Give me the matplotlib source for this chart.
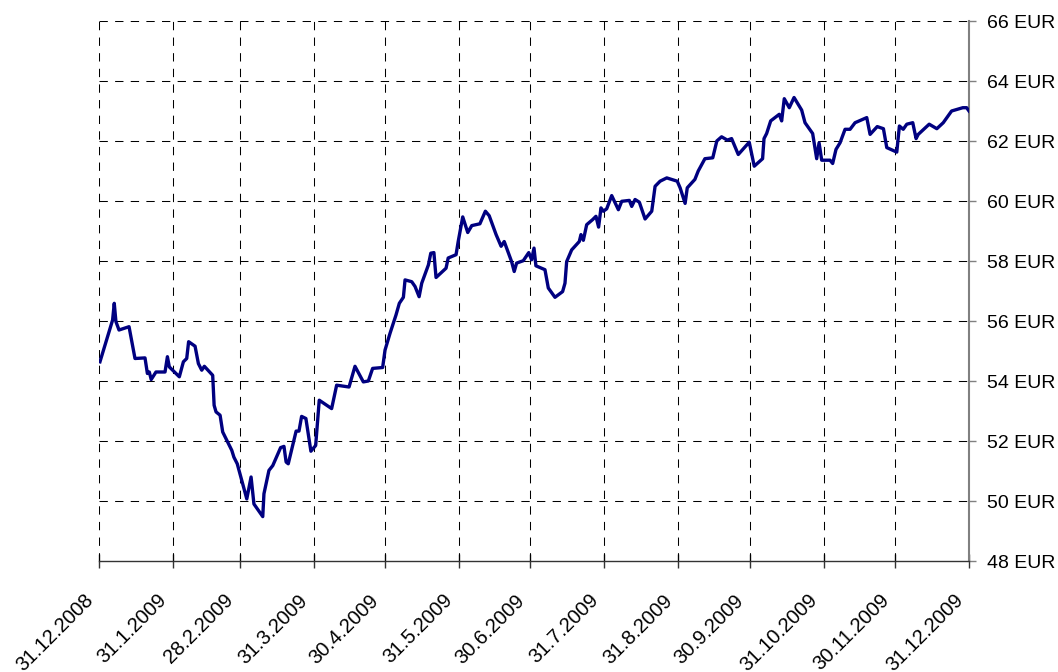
import datetime as dt

import matplotlib
matplotlib.use('Agg')
import matplotlib.pyplot as plt
import matplotlib.transforms as mtransforms

# --- Data (days after 31.12.2008, price in EUR) ---
START = dt.datetime(2008, 12, 31)
DAYS = [
    0.4, 5.7, 6.4, 7.1, 8.4, 12.6, 15.1, 19.3, 20.3, 21.1, 21.9, 23.9, 27.7,
    28.7, 29.5, 33.7, 35.4, 36.8, 37.6, 40.3, 41.7, 43.1, 44.2, 47.7, 48.3,
    49.1, 50.8, 51.9, 55.7, 56.6, 58.0, 62.0, 63.8, 65.0, 68.7, 69.2, 71.3,
    72.9, 76.2, 77.6, 78.5, 79.4, 82.7, 83.9, 85.0, 86.8, 88.9, 90.9, 92.4,
    97.6, 99.7, 104.9, 107.4, 110.9, 113.0, 114.8, 119.0, 120.0, 122.1, 124.6,
    126.0, 127.7, 128.4, 131.2, 132.6, 134.3, 135.4, 138.2, 139.2, 140.5,
    141.4, 145.6, 146.5, 149.8, 150.7, 152.6, 154.7, 156.4, 159.8, 162.1,
    163.7, 166.6, 168.7, 170.0, 173.1, 174.2, 175.2, 178.0, 180.3, 181.5,
    182.5, 183.3, 187.1, 188.5, 191.3, 194.5, 195.5, 196.2, 198.3, 201.5,
    202.2, 203.2, 204.6, 207.1, 208.5, 209.6, 210.6, 211.6, 213.0, 215.1,
    217.9, 219.3, 222.5, 223.5, 224.9, 226.7, 229.1, 231.9, 233.3, 235.4,
    238.2, 242.6, 243.8, 245.9, 246.8, 250.0, 251.4, 254.2, 257.5, 259.2,
    261.2, 263.6, 265.4, 268.2, 272.8, 274.9, 278.4, 279.0, 280.1, 281.8,
    285.4, 286.4, 287.5, 289.6, 291.6, 294.8, 296.2, 299.4, 301.1, 302.1,
    303.2, 306.7, 307.8, 309.2, 310.9, 313.0, 315.1, 317.2, 322.1, 323.5,
    326.5, 329.1, 330.5, 334.7, 335.8, 337.4, 338.9, 341.4, 342.8, 343.7,
    348.3, 351.5, 354.2, 357.7, 362.4, 364.0, 365.0,
]
PRICES = [
    54.64, 56.03, 56.59, 55.98, 55.70, 55.81, 54.75, 54.77, 54.25, 54.30,
    54.05, 54.30, 54.30, 54.81, 54.47, 54.14, 54.64, 54.75, 55.31, 55.16,
    54.58, 54.36, 54.49, 54.19, 53.19, 52.97, 52.86, 52.30, 51.69, 51.46,
    51.24, 50.07, 50.80, 49.90, 49.48, 50.24, 51.02, 51.18, 51.78, 51.82,
    51.30, 51.24, 52.33, 52.33, 52.82, 52.75, 51.66, 51.85, 53.36, 53.08,
    53.86, 53.80, 54.49, 53.97, 54.00, 54.42, 54.45, 55.03, 55.59, 56.20,
    56.59, 56.79, 57.37, 57.31, 57.15, 56.81, 57.26, 57.87, 58.26, 58.28,
    57.45, 57.76, 58.10, 58.21, 58.65, 59.47, 58.95, 59.18, 59.24, 59.66,
    59.51, 58.88, 58.49, 58.65, 57.98, 57.65, 57.93, 58.01, 58.28, 58.04,
    58.43, 57.84, 57.71, 57.10, 56.79, 56.98, 57.26, 57.98, 58.37, 58.65,
    58.88, 58.69, 59.21, 59.38, 59.49, 59.13, 59.77, 59.66, 59.74, 60.18,
    59.71, 59.99, 60.02, 59.82, 60.05, 59.96, 59.40, 59.66, 60.49, 60.66,
    60.77, 60.66, 60.44, 59.92, 60.44, 60.72, 61.00, 61.41, 61.44, 62.00,
    62.14, 62.03, 62.08, 61.55, 61.96, 61.16, 61.41, 62.08, 62.25, 62.67,
    62.89, 62.67, 63.41, 63.11, 63.45, 63.03, 62.61, 62.25, 61.41, 61.94,
    61.36, 61.36, 61.25, 61.72, 61.94, 62.39, 62.39, 62.61, 62.78, 62.22,
    62.48, 62.41, 61.78, 61.63, 62.50, 62.39, 62.56, 62.61, 62.08, 62.22,
    62.56, 62.41, 62.61, 63.00, 63.11, 63.11, 63.00,
]

# month-end ticks
TICK_DATES = [
    '31.12.2008', '31.1.2009', '28.2.2009', '31.3.2009', '30.4.2009',
    '31.5.2009', '30.6.2009', '31.7.2009', '31.8.2009', '30.9.2009',
    '31.10.2009', '30.11.2009', '31.12.2009',
]
Y_TICKS = [48, 50, 52, 54, 56, 58, 60, 62, 64, 66]

plt.rcParams['font.family'] = ['Liberation Sans', 'DejaVu Sans']

dates = [START + dt.timedelta(days=d) for d in DAYS]
tick_pos = [dt.datetime.strptime(s, '%d.%m.%Y') for s in TICK_DATES]

fig = plt.figure(figsize=(10.58, 6.72), dpi=100)
ax = fig.add_axes([99 / 1058, 111 / 672, 870 / 1058, 540 / 672])

ax.plot(dates, PRICES, color='#000080', linewidth=2.4, solid_joinstyle='round', zorder=3)

ax.set_xlim(tick_pos[0], tick_pos[-1])
ax.set_ylim(48, 66)

# dashed grid
dash = (0, (8, 7))
for t in tick_pos:
    ax.axvline(t, color='black', linewidth=0.75, linestyle=dash, zorder=2)
for y in Y_TICKS[1:]:
    ax.axhline(y, color='black', linewidth=0.75, linestyle=dash, zorder=2)

# spines
ax.spines['left'].set_visible(False)
ax.spines['top'].set_visible(False)
ax.spines['right'].set_color('#808080')
ax.spines['right'].set_linewidth(1.5)
ax.spines['bottom'].set_color('#333333')
ax.spines['bottom'].set_linewidth(1.0)

# y axis on the right
ax.yaxis.tick_right()
ax.set_yticks(Y_TICKS)
ax.set_yticklabels([f'{v} EUR' for v in Y_TICKS], fontsize=14)
ax.tick_params(axis='y', direction='out', length=5, width=1, color='#808080', pad=8)

# x axis
ax.set_xticks(tick_pos)
ax.set_xticklabels(TICK_DATES, fontsize=14.5, rotation=45, ha='right',
                   va='center', rotation_mode='anchor')
ax.tick_params(axis='x', direction='inout', length=10, width=1, color='#333333', pad=14)
shift = mtransforms.ScaledTranslation(-0.09, -0.10, fig.dpi_scale_trans)
for lbl in ax.get_xticklabels():
    lbl.set_transform(lbl.get_transform() + shift)

fig.savefig('out.png', dpi=100)
